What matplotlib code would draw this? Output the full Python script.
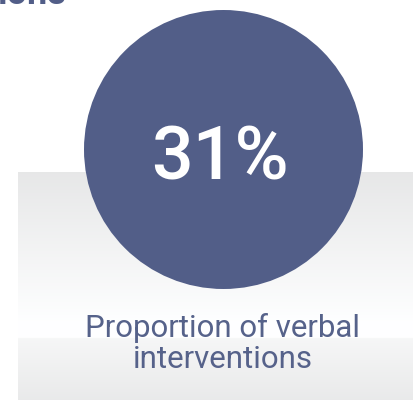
import numpy as np
import matplotlib
matplotlib.use("Agg")
import matplotlib.pyplot as plt
from matplotlib.patches import Circle

# Data
value_pct = 31
value_label = f"{value_pct}%"
caption_lines = ["Proportion of verbal", "interventions"]
heading_fragment = "ions"

W, H = 414, 401
fig = plt.figure(figsize=(W / 100, H / 100), dpi=100)
ax = fig.add_axes([0, 0, 1, 1])
ax.set_xlim(0, W)
ax.set_ylim(H, 0)
ax.axis("off")

# gray gradient panel
top, bot = 172, 400
n = 456
ys = np.linspace(top, bot, n)
col = np.empty(n)
for i, y in enumerate(ys):
    if y < 320:
        t = (y - top) / (320 - top)
        col[i] = 0.905 + (0.995 - 0.905) * t
    elif y < 338:
        col[i] = 0.997
    else:
        t = (y - 338) / (bot - 338)
        col[i] = 0.965 - (0.965 - 0.915) * t
img = np.repeat(col[:, None], 2, axis=1)
rgb = np.stack([img, np.minimum(img + 0.002, 1), np.minimum(img + 0.004, 1)], axis=-1)
ax.imshow(rgb, extent=[18, 420, bot, top], aspect="auto", interpolation="bilinear", zorder=1)

circ = Circle((223.5, 149.5), 139.5, facecolor="#525e88", edgecolor="none", zorder=2)
ax.add_patch(circ)

ax.text(220, 180, value_label, color="white", fontsize=53, fontfamily="Roboto",
        fontweight="medium", ha="center", va="baseline", zorder=3)

ax.text(223, 337, caption_lines[0], color="#56628a", fontsize=22.5, fontfamily="Roboto",
        ha="center", va="baseline", zorder=3)
ax.text(223, 368, caption_lines[1], color="#56628a", fontsize=22.5, fontfamily="Roboto",
        ha="center", va="baseline", zorder=3)

ax.text(-3, 4, heading_fragment, color="#525e88", fontsize=26, fontfamily="Roboto",
        fontweight="bold", ha="left", va="baseline", zorder=3)

fig.savefig("out.png", dpi=100)
